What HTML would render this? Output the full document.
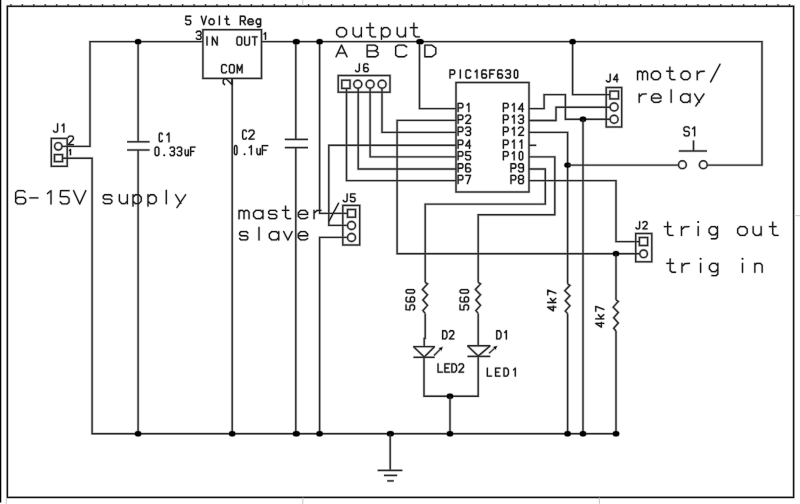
<!DOCTYPE html>
<html><head><meta charset="utf-8"><style>
html,body{margin:0;padding:0;background:#fff;overflow:hidden;font-family:"Liberation Sans",sans-serif;}
svg{display:block;}
#h path,#h rect,#h circle,#h ellipse{fill:none;stroke:#cdcdcd;stroke-width:2.8;}
#h .d{fill:#cdcdcd;stroke:#cdcdcd;stroke-width:1.4;}
#th path{fill:none;stroke:#d4d4d4;stroke-width:2.6;stroke-linejoin:round;stroke-linecap:round;}
#th .htd{fill:#d4d4d4;stroke:none;}
#g path,#g rect,#g circle{fill:none;stroke:#2a2a2a;stroke-width:1.4;}
#g .d{fill:#000;stroke:none;}
#t path{fill:none;stroke:#1a1a1a;stroke-width:1.3;stroke-linejoin:round;stroke-linecap:round;}
#t .td{fill:#1a1a1a;stroke:none;}
</style></head><body>
<svg width="800" height="504" viewBox="0 0 800 504">
<rect x="0" y="0" width="800" height="504" fill="#fff"/>
<g id="h">
<path d="M0.55 0 V502.6"/>
<rect x="7.35" y="6.25" width="786.25" height="491.15"/>
<path d="M10.90 4.2 V6.3 M22.35 4.2 V6.3 M33.80 4.2 V6.3 M45.25 4.2 V6.3 M56.70 4.2 V6.3 M68.15 4.2 V6.3 M79.60 4.2 V6.3 M91.05 4.2 V6.3 M102.50 4.2 V6.3 M113.95 4.2 V6.3 M125.40 4.2 V6.3 M136.85 4.2 V6.3 M148.30 4.2 V6.3 M159.75 4.2 V6.3 M171.20 4.2 V6.3 M182.65 4.2 V6.3 M194.10 4.2 V6.3 M205.55 4.2 V6.3 M217.00 4.2 V6.3 M228.45 4.2 V6.3 M239.90 4.2 V6.3 M251.35 4.2 V6.3 M262.80 4.2 V6.3 M274.25 4.2 V6.3 M285.70 4.2 V6.3 M297.15 4.2 V6.3 M308.60 4.2 V6.3 M320.05 4.2 V6.3 M331.50 4.2 V6.3 M342.95 4.2 V6.3 M354.40 4.2 V6.3 M365.85 4.2 V6.3 M377.30 4.2 V6.3 M388.75 4.2 V6.3 M400.20 4.2 V6.3 M411.65 4.2 V6.3 M423.10 4.2 V6.3 M434.55 4.2 V6.3 M446.00 4.2 V6.3 M457.45 4.2 V6.3 M468.90 4.2 V6.3 M480.35 4.2 V6.3 M491.80 4.2 V6.3 M503.25 4.2 V6.3 M514.70 4.2 V6.3 M526.15 4.2 V6.3 M537.60 4.2 V6.3 M549.05 4.2 V6.3 M560.50 4.2 V6.3 M571.95 4.2 V6.3 M583.40 4.2 V6.3 M594.85 4.2 V6.3 M606.30 4.2 V6.3 M617.75 4.2 V6.3 M629.20 4.2 V6.3 M640.65 4.2 V6.3 M652.10 4.2 V6.3 M663.55 4.2 V6.3 M675.00 4.2 V6.3 M686.45 4.2 V6.3 M697.90 4.2 V6.3 M709.35 4.2 V6.3 M720.80 4.2 V6.3 M732.25 4.2 V6.3 M743.70 4.2 V6.3 M755.15 4.2 V6.3 M766.60 4.2 V6.3 M778.05 4.2 V6.3 M789.50 4.2 V6.3"/>
<path d="M203 41.65 L90 41.65 L90 146.4 L62 146.4"/>
<path d="M261.5 41.65 L762 41.65 L762 165.1 L707.2 165.1"/>
<path d="M62.5 158.2 L92.1 158.2 L92.1 433.7 L616 433.7"/>
<path d="M138.1 41.65 L138.1 141.8"/>
<path d="M138.1 150 L138.1 433.7"/>
<path d="M127.1 141.8 L149.6 141.8"/>
<path d="M127.1 150 L149.6 150"/>
<ellipse cx="138.1" cy="41.65" rx="3.3" ry="2.7" class="d"/>
<ellipse cx="138.1" cy="433.7" rx="3.3" ry="2.7" class="d"/>
<rect x="202.9" y="29.7" width="58.6" height="48.7"/>
<path d="M232.2 78.4 L232.2 433.7"/>
<ellipse cx="232.2" cy="433.7" rx="3.3" ry="2.7" class="d"/>
<path d="M295.8 41.65 L295.8 139.4"/>
<path d="M295.8 147.6 L295.8 433.7"/>
<path d="M284.8 139.4 L308 139.4"/>
<path d="M284.8 147.6 L308 147.6"/>
<ellipse cx="296.3" cy="41.65" rx="3.6" ry="2.7" class="d"/>
<ellipse cx="296.3" cy="433.7" rx="3.6" ry="2.7" class="d"/>
<path d="M319.6 41.65 L319.6 213.4 L347.5 213.4"/>
<ellipse cx="319.6" cy="41.65" rx="3.3" ry="2.7" class="d"/>
<path d="M347.5 237.4 L319.6 237.4 L319.6 433.7"/>
<ellipse cx="319.6" cy="433.7" rx="3.3" ry="2.7" class="d"/>
<path d="M419.5 41.65 L419.5 108.6 L456 108.6"/>
<ellipse cx="420" cy="41.65" rx="3.8" ry="2.7" class="d"/>
<path d="M572.6 41.65 L572.6 94.6 L610 94.6"/>
<ellipse cx="572.6" cy="41.65" rx="3.3" ry="2.7" class="d"/>
<rect x="338.2" y="75.5" width="51.8" height="16.7"/>
<rect x="341.8" y="80.2" width="8.2" height="8.2"/>
<circle cx="357.8" cy="84.2" r="4.0"/>
<circle cx="370.1" cy="84.2" r="4.0"/>
<circle cx="382.1" cy="84.2" r="4.0"/>
<path d="M346.5 88.4 L346.5 180.6 L456 180.6"/>
<path d="M358.2 88.3 L358.2 169 L456 169"/>
<path d="M370.1 88.3 L370.1 156.9 L456 156.9"/>
<path d="M382 88.3 L382 132.4 L456 132.4"/>
<path d="M456 145.3 L328.8 145.3 L328.8 225.4 L347.5 225.4"/>
<path d="M456 120.4 L397.1 120.4 L397.1 253.7 L639.5 253.7"/>
<rect x="456" y="82.5" width="73" height="109.5"/>
<path d="M529 108.6 L544.1 108.6 L544.1 94.6 L565.4 94.6 L565.4 119.3 L610 119.3"/>
<ellipse cx="583" cy="119.3" rx="3.3" ry="2.7" class="d"/>
<path d="M583 119.3 L583 433.7"/>
<ellipse cx="583" cy="433.7" rx="3.3" ry="2.7" class="d"/>
<path d="M529 120.5 L556 120.5 L556 107.2 L610 107.2"/>
<path d="M529 132.4 L567.6 132.4 L567.6 283.8"/>
<path d="M567.6 313.6 L567.6 433.7"/>
<ellipse cx="567.6" cy="433.7" rx="3.3" ry="2.7" class="d"/>
<ellipse cx="567.6" cy="165.1" rx="3.3" ry="2.7" class="d"/>
<path d="M567.6 165.1 L678.4 165.1"/>
<path d="M529 145.3 L536.3 145.3"/>
<path d="M529 156.9 L554.8 156.9 L554.8 214.8 L478.2 214.8 L478.2 282.4"/>
<path d="M529 169 L545.3 169 L545.3 204.1 L425.2 204.1 L425.2 282.4"/>
<path d="M529 180.6 L616 180.6 L616 241.6 L639.4 241.6"/>
<ellipse cx="616" cy="253.7" rx="3.3" ry="2.7" class="d"/>
<path d="M616 253.7 L616 300"/>
<path d="M616 331 L616 433.7"/>
<ellipse cx="616" cy="433.7" rx="3.3" ry="2.7" class="d"/>
<path d="M425.2 282.4 L427.5 283.9 L422.4 289.53 L427.5 294.8 L422.9 300.07 L427.5 305.34 L422.9 310.61 L425.2 313.4"/>
<path d="M478.2 282.4 L480.5 283.9 L475.4 289.53 L480.5 294.8 L475.9 300.07 L480.5 305.34 L475.9 310.61 L478.2 313.4"/>
<path d="M567.6 283.8 L569.9 285.3 L564.8 290.654 L569.9 295.72 L565.3 300.786 L569.9 305.852 L565.3 310.918 L567.6 313.6"/>
<path d="M616 300 L618.3 301.5 L613.2 307.13 L618.3 312.4 L613.7 317.67 L618.3 322.94 L613.7 328.21 L616 331"/>
<path d="M413.4 346.6 H434.7 L424.2 356.9 Z" stroke-linejoin="bevel"/>
<path d="M413.4 357.3 L434.7 357.3"/>
<path d="M467.5 345.8 H490.3 L478.2 356.1 Z" stroke-linejoin="bevel"/>
<path d="M467.5 356.4 L490.3 356.4"/>
<path d="M425.2 313.4 L425.2 338.4 L424.2 338.4 L424.2 346.6"/>
<path d="M478.2 313.4 L478.2 345.8"/>
<path d="M424 357.3 L424 396.2 L478.2 396.2 L478.2 356.4"/>
<ellipse cx="450" cy="396.2" rx="3.3" ry="2.7" class="d"/>
<path d="M450 396.2 L450 433.7"/>
<ellipse cx="450" cy="433.7" rx="3.3" ry="2.7" class="d"/>
<path d="M434 355.5 L440.182 349.39"/>
<path d="M442.60 347.00 L441.38 350.60 L438.99 348.18 Z" class="d"/>
<path d="M489 353.3 L494.488 348.292"/>
<path d="M497.00 346.00 L495.63 349.55 L493.34 347.04 Z" class="d"/>
<ellipse cx="390.4" cy="433.7" rx="3.6" ry="2.7" class="d"/>
<path d="M390.2 433.7 L390.2 470.4"/>
<path d="M377.6 470.4 L402.4 470.4"/>
<path d="M383.9 475.4 L397.2 475.4"/>
<path d="M387.2 480.9 L393.8 480.9"/>
<rect x="51.3" y="138.4" width="15.9" height="27.9"/>
<circle cx="58.3" cy="146.3" r="3.7"/>
<rect x="54.5" y="154.6" width="8" height="7"/>
<rect x="606.2" y="87.5" width="15.5" height="39.5"/>
<rect x="609.9" y="91.1" width="8.6" height="7.8"/>
<circle cx="614.1" cy="107" r="4"/>
<circle cx="614.1" cy="119.3" r="4"/>
<rect x="635.7" y="233.5" width="16.1" height="28.3"/>
<rect x="639.4" y="237.5" width="8.2" height="8"/>
<circle cx="643.6" cy="253.8" r="3.8"/>
<rect x="342.8" y="205.4" width="16.9" height="39.6"/>
<rect x="347.5" y="209.5" width="8" height="7.7"/>
<circle cx="351.5" cy="225.5" r="4"/>
<circle cx="351.5" cy="237.5" r="4"/>
<circle cx="682.4" cy="164.7" r="3.9"/>
<circle cx="703.3" cy="164.7" r="3.9"/>
<path d="M693.5 140.4 L693.5 151"/>
<path d="M678.8 151 L707 151"/>
</g>
<g id="th">
<path d="M339.39 27.67 343.77 27.67 346.51 30.29 346.51 34.23 343.77 36.85 339.39 36.85 336.65 34.23 336.65 30.29 339.39 27.67 M353.15 27.67 353.15 34.23 355.62 36.85 358.9 36.85 361.37 34.23 M361.37 27.67 361.37 36.85 M370.07 23.15 370.07 35.01 371.99 36.85 375.55 36.85 M366.65 27.67 373.5 27.67 M381.5 27.67 381.5 39.32 M381.5 30.29 383.97 27.67 387.53 27.67 389.99 30.29 389.99 34.23 387.53 36.85 383.97 36.85 381.5 34.23 M397.25 27.67 397.25 34.23 399.72 36.85 403 36.85 405.47 34.23 M405.47 27.67 405.47 36.85 M413.88 23.15 413.88 35.01 415.79 36.85 419.35 36.85 M410.45 27.67 417.3 27.67"/>
<path d="M336.05 56.75 341.53 45.15 347.01 56.75 M337.77 53.15 345.29 53.15 M367.15 45.15 367.15 56.75 375.76 56.75 378.11 55.01 378.11 52.69 375.76 50.95 367.15 50.95 M367.15 45.15 374.98 45.15 377.33 46.89 377.33 49.21 374.98 50.95 M406.61 46.89 404.26 45.15 398 45.15 395.65 46.89 395.65 55.01 398 56.75 404.26 56.75 406.61 55.01 M424.85 45.15 424.85 56.75 431.9 56.75 435.81 53.85 435.81 48.05 431.9 45.15 424.85 45.15"/>
<path d="M637.55 71.27 637.55 79.65 M637.55 73.07 639.17 71.27 640.92 71.27 642.55 73.07 642.55 79.65 M642.55 73.07 644.17 71.27 645.92 71.27 647.55 73.07 647.55 79.65 M653.9 71.27 657.9 71.27 660.4 73.67 660.4 77.26 657.9 79.65 653.9 79.65 651.4 77.26 651.4 73.67 653.9 71.27 M669.88 67.15 669.88 77.97 671.62 79.65 674.88 79.65 M666.75 71.27 673 71.27 M683.55 71.27 687.55 71.27 690.05 73.67 690.05 77.26 687.55 79.65 683.55 79.65 681.05 77.26 681.05 73.67 683.55 71.27 M697.25 71.27 697.25 79.65 M697.25 74.27 700.12 71.51 704.25 71.27 M710.65 81.9 720.02 64.27"/>
<path d="M639.2 93.97 639.2 102.35 M639.2 96.97 642.07 94.21 646.2 93.97 M651.55 98.16 660.92 98.16 660.92 96.37 658.42 93.97 654.05 93.97 651.55 96.37 651.55 99.96 654.05 102.35 658.42 102.35 660.92 100.91 M671.15 89.85 671.15 102.35 M690.02 93.97 690.02 102.35 M690.02 96.37 687.52 93.97 683.15 93.97 680.65 96.37 680.65 99.96 683.15 102.35 687.52 102.35 690.02 99.96 M694.65 93.97 699.52 102.11 M704.02 93.97 695.9 105.97"/>
<path d="M24.9 191.98 23.48 190.65 17.78 190.65 15.65 192.64 15.65 201.95 17.78 203.95 23.48 203.95 25.61 201.95 25.61 199.29 23.48 197.3 17.78 197.3 15.65 199.29 M29.9 197.96 37.88 197.96 M47.55 193.58 51.01 190.65 51.01 203.95 M69.09 190.65 60.63 190.65 60.25 196.63 67.2 196.63 69.09 198.63 69.09 201.95 67.2 203.95 62.15 203.95 60.25 201.95 M73.65 190.65 79.7 203.95 85.75 190.65"/>
<path d="M111.89 196.27 110.43 194.74 104.71 194.74 103.25 196.27 103.25 197.92 104.71 199.19 110.43 199.19 111.89 200.47 111.89 202.12 110.43 203.65 104.71 203.65 103.25 202.12 M119.4 194.74 119.4 201.1 121.79 203.65 124.99 203.65 127.38 201.1 M127.38 194.74 127.38 203.65 M133 194.74 133 206.04 M133 197.28 135.39 194.74 138.85 194.74 141.25 197.28 141.25 201.1 138.85 203.65 135.39 203.65 133 201.1 M148 194.74 148 206.04 M148 197.28 150.39 194.74 153.85 194.74 156.25 197.28 156.25 201.1 153.85 203.65 150.39 203.65 148 201.1 M166.3 190.35 166.3 203.65 M175.65 194.74 180.84 203.4 M185.62 194.74 176.98 207.51"/>
<path d="M239.05 210.28 239.05 218.65 M239.05 212.07 240.68 210.28 242.43 210.28 244.05 212.07 244.05 218.65 M244.05 212.07 245.68 210.28 247.43 210.28 249.05 212.07 249.05 218.65 M262.93 210.28 262.93 218.65 M262.93 212.67 260.43 210.28 256.05 210.28 253.55 212.67 253.55 216.26 256.05 218.65 260.43 218.65 262.93 216.26 M276.77 211.71 275.4 210.28 270.02 210.28 268.65 211.71 268.65 213.27 270.02 214.46 275.4 214.46 276.77 215.66 276.77 217.21 275.4 218.65 270.02 218.65 268.65 217.21 M285.57 206.15 285.57 216.97 287.32 218.65 290.57 218.65 M282.45 210.28 288.7 210.28 M298.25 214.46 307.62 214.46 307.62 212.67 305.12 210.28 300.75 210.28 298.25 212.67 298.25 216.26 300.75 218.65 305.12 218.65 307.62 217.21 M314.05 210.28 314.05 218.65 M314.05 213.27 316.92 210.51 321.05 210.28 M329.15 220.9 338.52 203.28"/>
<path d="M247.78 233.01 246.4 231.57 241.03 231.57 239.65 233.01 239.65 234.57 241.03 235.76 246.4 235.76 247.78 236.96 247.78 238.51 246.4 239.95 241.03 239.95 239.65 238.51 M259 227.45 259 239.95 M278.72 231.57 278.72 239.95 M278.72 233.97 276.22 231.57 271.85 231.57 269.35 233.97 269.35 237.56 271.85 239.95 276.22 239.95 278.72 237.56 M283.65 231.57 287.9 239.95 292.15 231.57 M298.25 235.76 307.62 235.76 307.62 233.97 305.12 231.57 300.75 231.57 298.25 233.97 298.25 237.56 300.75 239.95 305.12 239.95 307.62 238.51"/>
<path d="M667.68 222.15 667.68 233.67 669.54 235.45 673 235.45 M664.35 226.54 671 226.54 M681.5 226.54 681.5 235.45 M681.5 229.72 684.56 226.79 688.95 226.54 M698.2 226.54 698.2 235.45 M717.43 226.54 717.43 237.18 715.83 238.77 711.44 238.77 M717.43 229.08 715.03 226.54 711.44 226.54 709.05 229.08 709.05 232.27 711.44 234.81 715.03 234.81 717.43 232.27 M740.31 226.54 744.57 226.54 747.23 229.08 747.23 232.9 744.57 235.45 740.31 235.45 737.65 232.9 737.65 229.08 740.31 226.54 M753.15 226.54 753.15 232.9 755.54 235.45 758.74 235.45 761.13 232.9 M761.13 226.54 761.13 235.45 M772.73 222.15 772.73 233.67 774.59 235.45 778.04 235.45 M769.4 226.54 776.05 226.54"/>
<path d="M670.18 258.95 670.18 270.47 672.04 272.25 675.5 272.25 M666.85 263.34 673.5 263.34 M682 263.34 682 272.25 M682 266.52 685.06 263.59 689.45 263.34 M700.6 263.34 700.6 272.25 M717.83 263.34 717.83 273.98 716.23 275.57 711.84 275.57 M717.83 265.88 715.43 263.34 711.84 263.34 709.45 265.88 709.45 269.07 711.84 271.61 715.43 271.61 717.83 269.07 M742.5 263.34 742.5 272.25 M754.85 263.34 754.85 272.25 M754.85 265.25 756.58 263.34 760.44 263.34 762.17 265.25 762.17 272.25"/>
<path d="M190.67 16.25 185.94 16.25 185.73 20.03 189.61 20.03 190.67 21.29 190.67 23.39 189.61 24.65 186.79 24.65 185.73 23.39 M201.33 16.25 203.8 24.65 206.27 16.25 M210.47 19.02 212.73 19.02 214.14 20.63 214.14 23.04 212.73 24.65 210.47 24.65 209.06 23.04 209.06 20.63 210.47 19.02 M219.4 16.25 219.4 24.65 M226.67 16.25 226.67 23.52 227.66 24.65 229.49 24.65 M224.91 19.02 228.43 19.02 M240.33 24.65 240.33 16.25 244.21 16.25 245.27 17.51 245.27 19.61 244.21 20.87 240.33 20.87 M242.8 20.87 245.27 24.65 M247.95 21.84 253.25 21.84 253.25 20.63 251.83 19.02 249.37 19.02 247.95 20.63 247.95 23.04 249.37 24.65 251.83 24.65 253.25 23.69 M260.62 19.02 260.62 25.74 259.78 26.75 257.45 26.75 M260.62 20.63 259.35 19.02 257.45 19.02 256.18 20.63 256.18 22.64 257.45 24.25 259.35 24.25 260.62 22.64"/>
<path d="M207 36.85 207 45.05 M212.39 45.05 212.39 36.85 217.21 45.05 217.21 36.85"/>
<path d="M238.04 36.85 240.66 36.85 241.76 38.16 241.76 43.74 240.66 45.05 238.04 45.05 236.94 43.74 236.94 38.16 238.04 36.85 M244.64 36.85 244.64 43.82 245.67 45.05 248.43 45.05 249.46 43.82 249.46 36.85 M252.34 36.85 257.16 36.85 M254.75 36.85 254.75 45.05"/>
<path d="M226.46 65.88 225.43 64.65 222.67 64.65 221.64 65.88 221.64 71.62 222.67 72.85 225.43 72.85 226.46 71.62 M230.54 64.65 233.16 64.65 234.26 65.96 234.26 71.54 233.16 72.85 230.54 72.85 229.44 71.54 229.44 65.96 230.54 64.65 M237.24 72.85 237.24 64.65 239.65 70.39 242.06 64.65 242.06 72.85"/>
<path d="M196.32 32.47 197.34 31.25 200.06 31.25 201.08 32.47 201.08 34.09 200.06 35.3 198.02 35.3 M200.06 35.3 201.08 36.52 201.08 38.14 200.06 39.35 197.34 39.35 196.32 38.14"/>
<path d="M264.06 34.12 265.52 32.65 265.52 39.35"/>
<g transform="translate(232.6 85.2) rotate(-90)"><path d="M0.65 -8.04 1.86 -9.35 5.1 -9.35 6.31 -8.04 6.31 -6.3 0.65 -0.65 6.31 -0.65"/></g>
<path d="M359.34 63.85 359.34 70.39 358.37 71.55 356.43 71.55 355.46 70.39 M367.94 64.62 367.29 63.85 364.71 63.85 363.74 65 363.74 70.39 364.71 71.55 367.29 71.55 368.26 70.39 368.26 68.85 367.29 67.7 364.71 67.7 363.74 68.85"/>
<path d="M450 78 450 70 453.69 70 454.7 71.2 454.7 73.2 453.69 74.4 450 74.4 M460.31 70 460.31 78 M470.62 71.2 469.61 70 466.93 70 465.92 71.2 465.92 76.8 466.93 78 469.61 78 470.62 76.8 M475.22 71.76 476.97 70 476.97 78 M486.21 70.8 485.53 70 482.85 70 481.84 71.2 481.84 76.8 482.85 78 485.53 78 486.54 76.8 486.54 75.2 485.53 74 482.85 74 481.84 75.2 M494.5 70 489.8 70 489.8 78 M489.8 74 493.16 74 M502.13 70.8 501.45 70 498.77 70 497.76 71.2 497.76 76.8 498.77 78 501.45 78 502.46 76.8 502.46 75.2 501.45 74 498.77 74 497.76 75.2 M505.72 71.2 506.73 70 509.41 70 510.42 71.2 510.42 72.8 509.41 74 507.4 74 M509.41 74 510.42 75.2 510.42 76.8 509.41 78 506.73 78 505.72 76.8 M515.36 70 516.7 70 517.71 71.2 517.71 76.8 516.7 78 515.36 78 514.35 76.8 514.35 71.2 515.36 70"/>
<path d="M458.09 111.55 458.09 103.35 461.88 103.35 462.91 104.58 462.91 106.63 461.88 107.86 458.09 107.86 M467.07 105.15 468.86 103.35 468.86 111.55"/>
<path d="M458.09 123.35 458.09 115.15 461.88 115.15 462.91 116.38 462.91 118.43 461.88 119.66 458.09 119.66 M465.69 116.38 466.72 115.15 469.48 115.15 470.51 116.38 470.51 118.02 465.69 123.35 470.51 123.35"/>
<path d="M458.09 135.35 458.09 127.15 461.88 127.15 462.91 128.38 462.91 130.43 461.88 131.66 458.09 131.66 M465.69 128.38 466.72 127.15 469.48 127.15 470.51 128.38 470.51 130.02 469.48 131.25 467.41 131.25 M469.48 131.25 470.51 132.48 470.51 134.12 469.48 135.35 466.72 135.35 465.69 134.12"/>
<path d="M458.09 148.25 458.09 140.05 461.88 140.05 462.91 141.28 462.91 143.33 461.88 144.56 458.09 144.56 M469.48 148.25 469.48 140.05 465.69 145.79 470.51 145.79"/>
<path d="M458.09 159.85 458.09 151.65 461.88 151.65 462.91 152.88 462.91 154.93 461.88 156.16 458.09 156.16 M470.51 151.65 465.9 151.65 465.69 155.34 469.48 155.34 470.51 156.57 470.51 158.62 469.48 159.85 466.72 159.85 465.69 158.62"/>
<path d="M458.09 171.95 458.09 163.75 461.88 163.75 462.91 164.98 462.91 167.03 461.88 168.26 458.09 168.26 M470.17 164.57 469.48 163.75 466.72 163.75 465.69 164.98 465.69 170.72 466.72 171.95 469.48 171.95 470.51 170.72 470.51 169.08 469.48 167.85 466.72 167.85 465.69 169.08"/>
<path d="M458.09 183.55 458.09 175.35 461.88 175.35 462.91 176.58 462.91 178.63 461.88 179.86 458.09 179.86 M465.69 175.35 470.51 175.35 467.41 183.55"/>
<path d="M503.39 111.55 503.39 103.35 507.18 103.35 508.21 104.58 508.21 106.63 507.18 107.86 503.39 107.86 M512.37 105.15 514.16 103.35 514.16 111.55 M522.38 111.55 522.38 103.35 518.59 109.09 523.41 109.09"/>
<path d="M503.39 123.35 503.39 115.15 507.18 115.15 508.21 116.38 508.21 118.43 507.18 119.66 503.39 119.66 M512.37 116.95 514.16 115.15 514.16 123.35 M518.59 116.38 519.62 115.15 522.38 115.15 523.41 116.38 523.41 118.02 522.38 119.25 520.31 119.25 M522.38 119.25 523.41 120.48 523.41 122.12 522.38 123.35 519.62 123.35 518.59 122.12"/>
<path d="M503.39 135.35 503.39 127.15 507.18 127.15 508.21 128.38 508.21 130.43 507.18 131.66 503.39 131.66 M512.37 128.95 514.16 127.15 514.16 135.35 M518.59 128.38 519.62 127.15 522.38 127.15 523.41 128.38 523.41 130.02 518.59 135.35 523.41 135.35"/>
<path d="M503.39 148.25 503.39 140.05 507.18 140.05 508.21 141.28 508.21 143.33 507.18 144.56 503.39 144.56 M512.37 141.85 514.16 140.05 514.16 148.25 M519.97 141.85 521.76 140.05 521.76 148.25"/>
<path d="M503.39 159.85 503.39 151.65 507.18 151.65 508.21 152.88 508.21 154.93 507.18 156.16 503.39 156.16 M512.37 153.45 514.16 151.65 514.16 159.85 M520.31 151.65 521.69 151.65 522.72 152.88 522.72 158.62 521.69 159.85 520.31 159.85 519.28 158.62 519.28 152.88 520.31 151.65"/>
<path d="M510.99 171.95 510.99 163.75 514.78 163.75 515.81 164.98 515.81 167.03 514.78 168.26 510.99 168.26 M518.59 170.72 519.62 171.95 522.38 171.95 523.41 170.72 523.41 164.98 522.38 163.75 519.62 163.75 518.59 164.98 518.59 166.62 519.62 167.85 522.38 167.85 523.41 166.62"/>
<path d="M510.99 183.55 510.99 175.35 514.78 175.35 515.81 176.58 515.81 178.63 514.78 179.86 510.99 179.86 M519.62 179.45 518.59 178.22 518.59 176.58 519.62 175.35 522.38 175.35 523.41 176.58 523.41 178.22 522.38 179.45 519.62 179.45 518.59 180.68 518.59 182.32 519.62 183.55 522.38 183.55 523.41 182.32 523.41 180.68 522.38 179.45"/>
<path d="M610.19 74.25 610.19 80.62 609.25 81.75 607.36 81.75 606.41 80.62 M616.96 81.75 616.96 74.25 613.49 79.5 617.9 79.5"/>
<path d="M689.25 128.2 688.11 126.85 685.09 126.85 683.95 128.2 683.95 130 685.09 131.35 688.11 131.35 689.25 132.7 689.25 134.5 688.11 135.85 685.09 135.85 683.95 134.5 M692.67 128.83 694.63 126.85 694.63 135.85"/>
<path d="M57.57 123.85 57.57 130.82 56.53 132.05 54.47 132.05 53.43 130.82 M62.07 125.65 63.86 123.85 63.86 132.05"/>
<path d="M68.24 137.35 69.34 136.05 72.26 136.05 73.36 137.35 73.36 139.09 68.24 144.75 73.36 144.75"/>
<path d="M69.34 150.59 70.48 149.45 70.48 154.65"/>
<path d="M162.26 134.34 161.62 133.05 159.9 133.05 159.25 134.34 159.25 140.36 159.9 141.65 161.62 141.65 162.26 140.36"/>
<path d="M166.95 134.94 168.96 133.05 168.96 141.65"/>
<path d="M156.2 147.05 157.73 147.05 158.88 148.32 158.88 154.27 157.73 155.55 156.2 155.55 155.05 154.27 155.05 148.32 156.2 147.05  M170.05 148.32 170.99 147.05 173.51 147.05 174.45 148.32 174.45 150.02 173.51 151.3 171.62 151.3 M173.51 151.3 174.45 152.57 174.45 154.27 173.51 155.55 170.99 155.55 170.05 154.27 M177.25 148.32 178.19 147.05 180.71 147.05 181.65 148.32 181.65 150.02 180.71 151.3 178.82 151.3 M180.71 151.3 181.65 152.57 181.65 154.27 180.71 155.55 178.19 155.55 177.25 154.27 M185.15 149.85 185.15 153.92 186.1 155.55 187.36 155.55 188.31 153.92 M188.31 149.85 188.31 155.55 M195.05 147.05 190.65 147.05 190.65 155.55 M190.65 151.3 193.8 151.3"/>
<path d="M246.39 131.48 245.59 130.15 243.45 130.15 242.65 131.48 242.65 137.71 243.45 139.05 245.59 139.05 246.39 137.71 M248.95 131.48 250.04 130.15 252.96 130.15 254.06 131.48 254.06 133.26 248.95 139.05 254.06 139.05"/>
<path d="M235.15 145.65 236.22 145.65 237.02 146.98 237.02 153.21 236.22 154.55 235.15 154.55 234.35 153.21 234.35 146.98 235.15 145.65  M249.25 147.61 251.33 145.65 251.33 154.55 M256.95 148.59 256.95 152.85 257.96 154.55 259.3 154.55 260.31 152.85 M260.31 148.59 260.31 154.55 M267.65 145.65 262.35 145.65 262.35 154.55 M262.35 150.1 266.13 150.1"/>
<path d="M347.14 193.95 347.14 200.5 346.17 201.65 344.23 201.65 343.26 200.5 M355.06 193.95 350.73 193.95 350.54 197.41 354.09 197.41 355.06 198.57 355.06 200.5 354.09 201.65 351.51 201.65 350.54 200.5"/>
<path d="M639.61 221.65 639.61 227.77 638.71 228.85 636.89 228.85 635.99 227.77 M642.88 222.73 643.79 221.65 646.21 221.65 647.12 222.73 647.12 224.17 642.88 228.85 647.12 228.85"/>
<path d="M442.65 330.75 442.65 338.95 445.42 338.95 446.95 336.9 446.95 332.8 445.42 330.75 442.65 330.75 M449.45 331.98 450.37 330.75 452.83 330.75 453.75 331.98 453.75 333.62 449.45 338.95 453.75 338.95"/>
<path d="M496.75 330.75 496.75 338.95 499.51 338.95 501.05 336.9 501.05 332.8 499.51 330.75 496.75 330.75 M504.78 332.55 506.38 330.75 506.38 338.95"/>
<path d="M438.04 363.85 438.04 372.15 442.36 372.15 M449.52 363.85 444.88 363.85 444.88 372.15 449.52 372.15 M444.88 368 448.2 368 M451.88 363.85 451.88 372.15 454.86 372.15 456.52 370.08 456.52 365.93 454.86 363.85 451.88 363.85 M458.88 365.1 459.87 363.85 462.53 363.85 463.52 365.1 463.52 366.76 458.88 372.15 463.52 372.15"/>
<path d="M487.35 368.15 487.35 376.05 491.45 376.05 M500.01 368.15 495.59 368.15 495.59 376.05 500.01 376.05 M495.59 372.1 498.75 372.1 M503.99 368.15 503.99 376.05 506.83 376.05 508.41 374.07 508.41 370.12 506.83 368.15 503.99 368.15 M513.65 369.89 515.3 368.15 515.3 376.05"/>
<g transform="translate(415.2 310.6) rotate(-90)"><path d="M5.7 -9.15 0.92 -9.15 0.7 -5.33 4.63 -5.33 5.7 -4.05 5.7 -1.92 4.63 -0.65 1.77 -0.65 0.7 -1.92 M13.34 -8.3 12.63 -9.15 9.77 -9.15 8.7 -7.88 8.7 -1.92 9.77 -0.65 12.63 -0.65 13.7 -1.92 13.7 -3.62 12.63 -4.9 9.77 -4.9 8.7 -3.62 M18.49 -9.15 19.91 -9.15 20.98 -7.88 20.98 -1.92 19.91 -0.65 18.49 -0.65 17.41 -1.92 17.41 -7.88 18.49 -9.15"/></g>
<g transform="translate(469.2 310.6) rotate(-90)"><path d="M5.7 -9.15 0.92 -9.15 0.7 -5.33 4.63 -5.33 5.7 -4.05 5.7 -1.92 4.63 -0.65 1.77 -0.65 0.7 -1.92 M13.34 -8.3 12.63 -9.15 9.77 -9.15 8.7 -7.88 8.7 -1.92 9.77 -0.65 12.63 -0.65 13.7 -1.92 13.7 -3.62 12.63 -4.9 9.77 -4.9 8.7 -3.62 M18.49 -9.15 19.91 -9.15 20.98 -7.88 20.98 -1.92 19.91 -0.65 18.49 -0.65 17.41 -1.92 17.41 -7.88 18.49 -9.15"/></g>
<g transform="translate(556.4 311.7) rotate(-90)"><path d="M4.54 -0.65 4.54 -8.65 0.85 -3.05 5.55 -3.05 M9.18 -8.65 9.18 -0.65 M13.22 -6.01 9.18 -2.56 M10.66 -3.71 13.22 -0.65 M16.85 -8.65 21.55 -8.65 18.53 -0.65"/></g>
<g transform="translate(604.4 328) rotate(-90)"><path d="M4.54 -0.65 4.54 -8.65 0.85 -3.05 5.55 -3.05 M9.18 -8.65 9.18 -0.65 M13.22 -6.01 9.18 -2.56 M10.66 -3.71 13.22 -0.65 M16.85 -8.65 21.55 -8.65 18.53 -0.65"/></g>
<circle cx="698.20" cy="222.02" r="1.05" class="htd"/>
<circle cx="700.60" cy="258.82" r="1.05" class="htd"/>
<circle cx="742.50" cy="258.82" r="1.05" class="htd"/>
<circle cx="164.25" cy="155.21" r="1.05" class="htd"/>
<circle cx="244.55" cy="154.19" r="1.05" class="htd"/>
</g>
<g id="g">
<path d="M0.55 0 V502.6" style="stroke:#000;stroke-width:1.1"/>
<rect x="7.35" y="6.25" width="786.25" height="491.15" style="stroke:#111;stroke-width:1.35"/>
<path d="M10.90 4.2 V6.3 M22.35 4.2 V6.3 M33.80 4.2 V6.3 M45.25 4.2 V6.3 M56.70 4.2 V6.3 M68.15 4.2 V6.3 M79.60 4.2 V6.3 M91.05 4.2 V6.3 M102.50 4.2 V6.3 M113.95 4.2 V6.3 M125.40 4.2 V6.3 M136.85 4.2 V6.3 M148.30 4.2 V6.3 M159.75 4.2 V6.3 M171.20 4.2 V6.3 M182.65 4.2 V6.3 M194.10 4.2 V6.3 M205.55 4.2 V6.3 M217.00 4.2 V6.3 M228.45 4.2 V6.3 M239.90 4.2 V6.3 M251.35 4.2 V6.3 M262.80 4.2 V6.3 M274.25 4.2 V6.3 M285.70 4.2 V6.3 M297.15 4.2 V6.3 M308.60 4.2 V6.3 M320.05 4.2 V6.3 M331.50 4.2 V6.3 M342.95 4.2 V6.3 M354.40 4.2 V6.3 M365.85 4.2 V6.3 M377.30 4.2 V6.3 M388.75 4.2 V6.3 M400.20 4.2 V6.3 M411.65 4.2 V6.3 M423.10 4.2 V6.3 M434.55 4.2 V6.3 M446.00 4.2 V6.3 M457.45 4.2 V6.3 M468.90 4.2 V6.3 M480.35 4.2 V6.3 M491.80 4.2 V6.3 M503.25 4.2 V6.3 M514.70 4.2 V6.3 M526.15 4.2 V6.3 M537.60 4.2 V6.3 M549.05 4.2 V6.3 M560.50 4.2 V6.3 M571.95 4.2 V6.3 M583.40 4.2 V6.3 M594.85 4.2 V6.3 M606.30 4.2 V6.3 M617.75 4.2 V6.3 M629.20 4.2 V6.3 M640.65 4.2 V6.3 M652.10 4.2 V6.3 M663.55 4.2 V6.3 M675.00 4.2 V6.3 M686.45 4.2 V6.3 M697.90 4.2 V6.3 M709.35 4.2 V6.3 M720.80 4.2 V6.3 M732.25 4.2 V6.3 M743.70 4.2 V6.3 M755.15 4.2 V6.3 M766.60 4.2 V6.3 M778.05 4.2 V6.3 M789.50 4.2 V6.3" style="stroke:#222;stroke-width:1.2"/>
<path d="M302.8 0 V6 M302.8 497.5 V504 M599.4 0 V6 M599.4 497.5 V504 M794.5 215.7 H800 M6.3 497.5 V504" style="stroke:#c8c8c8;stroke-width:1"/>
<path d="M203 41.65 L90 41.65 L90 146.4 L62 146.4"/>
<path d="M261.5 41.65 L762 41.65 L762 165.1 L707.2 165.1"/>
<path d="M62.5 158.2 L92.1 158.2 L92.1 433.7 L616 433.7"/>
<path d="M138.1 41.65 L138.1 141.8"/>
<path d="M138.1 150 L138.1 433.7"/>
<path d="M127.1 141.8 L149.6 141.8"/>
<path d="M127.1 150 L149.6 150"/>
<ellipse cx="138.1" cy="41.65" rx="3.3" ry="2.7" class="d"/>
<ellipse cx="138.1" cy="433.7" rx="3.3" ry="2.7" class="d"/>
<rect x="202.9" y="29.7" width="58.6" height="48.7"/>
<path d="M232.2 78.4 L232.2 433.7"/>
<ellipse cx="232.2" cy="433.7" rx="3.3" ry="2.7" class="d"/>
<path d="M295.8 41.65 L295.8 139.4"/>
<path d="M295.8 147.6 L295.8 433.7"/>
<path d="M284.8 139.4 L308 139.4"/>
<path d="M284.8 147.6 L308 147.6"/>
<ellipse cx="296.3" cy="41.65" rx="3.6" ry="2.7" class="d"/>
<ellipse cx="296.3" cy="433.7" rx="3.6" ry="2.7" class="d"/>
<path d="M319.6 41.65 L319.6 213.4 L347.5 213.4"/>
<ellipse cx="319.6" cy="41.65" rx="3.3" ry="2.7" class="d"/>
<path d="M347.5 237.4 L319.6 237.4 L319.6 433.7"/>
<ellipse cx="319.6" cy="433.7" rx="3.3" ry="2.7" class="d"/>
<path d="M419.5 41.65 L419.5 108.6 L456 108.6"/>
<ellipse cx="420" cy="41.65" rx="3.8" ry="2.7" class="d"/>
<path d="M572.6 41.65 L572.6 94.6 L610 94.6"/>
<ellipse cx="572.6" cy="41.65" rx="3.3" ry="2.7" class="d"/>
<rect x="338.2" y="75.5" width="51.8" height="16.7"/>
<rect x="341.8" y="80.2" width="8.2" height="8.2"/>
<circle cx="357.8" cy="84.2" r="4.0"/>
<circle cx="370.1" cy="84.2" r="4.0"/>
<circle cx="382.1" cy="84.2" r="4.0"/>
<path d="M346.5 88.4 L346.5 180.6 L456 180.6"/>
<path d="M358.2 88.3 L358.2 169 L456 169"/>
<path d="M370.1 88.3 L370.1 156.9 L456 156.9"/>
<path d="M382 88.3 L382 132.4 L456 132.4"/>
<path d="M456 145.3 L328.8 145.3 L328.8 225.4 L347.5 225.4"/>
<path d="M456 120.4 L397.1 120.4 L397.1 253.7 L639.5 253.7"/>
<rect x="456" y="82.5" width="73" height="109.5"/>
<path d="M529 108.6 L544.1 108.6 L544.1 94.6 L565.4 94.6 L565.4 119.3 L610 119.3"/>
<ellipse cx="583" cy="119.3" rx="3.3" ry="2.7" class="d"/>
<path d="M583 119.3 L583 433.7"/>
<ellipse cx="583" cy="433.7" rx="3.3" ry="2.7" class="d"/>
<path d="M529 120.5 L556 120.5 L556 107.2 L610 107.2"/>
<path d="M529 132.4 L567.6 132.4 L567.6 283.8"/>
<path d="M567.6 313.6 L567.6 433.7"/>
<ellipse cx="567.6" cy="433.7" rx="3.3" ry="2.7" class="d"/>
<ellipse cx="567.6" cy="165.1" rx="3.3" ry="2.7" class="d"/>
<path d="M567.6 165.1 L678.4 165.1"/>
<path d="M529 145.3 L536.3 145.3"/>
<path d="M529 156.9 L554.8 156.9 L554.8 214.8 L478.2 214.8 L478.2 282.4"/>
<path d="M529 169 L545.3 169 L545.3 204.1 L425.2 204.1 L425.2 282.4"/>
<path d="M529 180.6 L616 180.6 L616 241.6 L639.4 241.6"/>
<ellipse cx="616" cy="253.7" rx="3.3" ry="2.7" class="d"/>
<path d="M616 253.7 L616 300"/>
<path d="M616 331 L616 433.7"/>
<ellipse cx="616" cy="433.7" rx="3.3" ry="2.7" class="d"/>
<path d="M425.2 282.4 L427.5 283.9 L422.4 289.53 L427.5 294.8 L422.9 300.07 L427.5 305.34 L422.9 310.61 L425.2 313.4"/>
<path d="M478.2 282.4 L480.5 283.9 L475.4 289.53 L480.5 294.8 L475.9 300.07 L480.5 305.34 L475.9 310.61 L478.2 313.4"/>
<path d="M567.6 283.8 L569.9 285.3 L564.8 290.654 L569.9 295.72 L565.3 300.786 L569.9 305.852 L565.3 310.918 L567.6 313.6"/>
<path d="M616 300 L618.3 301.5 L613.2 307.13 L618.3 312.4 L613.7 317.67 L618.3 322.94 L613.7 328.21 L616 331"/>
<path d="M413.4 346.6 H434.7 L424.2 356.9 Z" stroke-linejoin="bevel"/>
<path d="M413.4 357.3 L434.7 357.3"/>
<path d="M467.5 345.8 H490.3 L478.2 356.1 Z" stroke-linejoin="bevel"/>
<path d="M467.5 356.4 L490.3 356.4"/>
<path d="M425.2 313.4 L425.2 338.4 L424.2 338.4 L424.2 346.6"/>
<path d="M478.2 313.4 L478.2 345.8"/>
<path d="M424 357.3 L424 396.2 L478.2 396.2 L478.2 356.4"/>
<ellipse cx="450" cy="396.2" rx="3.3" ry="2.7" class="d"/>
<path d="M450 396.2 L450 433.7"/>
<ellipse cx="450" cy="433.7" rx="3.3" ry="2.7" class="d"/>
<path d="M434 355.5 L440.182 349.39" style="stroke-width:1.1;"/>
<path d="M442.60 347.00 L441.38 350.60 L438.99 348.18 Z" class="d"/>
<path d="M489 353.3 L494.488 348.292" style="stroke-width:1.1;"/>
<path d="M497.00 346.00 L495.63 349.55 L493.34 347.04 Z" class="d"/>
<ellipse cx="390.4" cy="433.7" rx="3.6" ry="2.7" class="d"/>
<path d="M390.2 433.7 L390.2 470.4"/>
<path d="M377.6 470.4 L402.4 470.4"/>
<path d="M383.9 475.4 L397.2 475.4"/>
<path d="M387.2 480.9 L393.8 480.9"/>
<rect x="51.3" y="138.4" width="15.9" height="27.9"/>
<circle cx="58.3" cy="146.3" r="3.7"/>
<rect x="54.5" y="154.6" width="8" height="7"/>
<rect x="606.2" y="87.5" width="15.5" height="39.5"/>
<rect x="609.9" y="91.1" width="8.6" height="7.8"/>
<circle cx="614.1" cy="107" r="4"/>
<circle cx="614.1" cy="119.3" r="4"/>
<rect x="635.7" y="233.5" width="16.1" height="28.3"/>
<rect x="639.4" y="237.5" width="8.2" height="8"/>
<circle cx="643.6" cy="253.8" r="3.8"/>
<rect x="342.8" y="205.4" width="16.9" height="39.6"/>
<rect x="347.5" y="209.5" width="8" height="7.7"/>
<circle cx="351.5" cy="225.5" r="4"/>
<circle cx="351.5" cy="237.5" r="4"/>
<circle cx="682.4" cy="164.7" r="3.9"/>
<circle cx="703.3" cy="164.7" r="3.9"/>
<path d="M693.5 140.4 L693.5 151"/>
<path d="M678.8 151 L707 151"/>
</g>
<g id="t">
<path d="M339.39 27.67 343.77 27.67 346.51 30.29 346.51 34.23 343.77 36.85 339.39 36.85 336.65 34.23 336.65 30.29 339.39 27.67 M353.15 27.67 353.15 34.23 355.62 36.85 358.9 36.85 361.37 34.23 M361.37 27.67 361.37 36.85 M370.07 23.15 370.07 35.01 371.99 36.85 375.55 36.85 M366.65 27.67 373.5 27.67 M381.5 27.67 381.5 39.32 M381.5 30.29 383.97 27.67 387.53 27.67 389.99 30.29 389.99 34.23 387.53 36.85 383.97 36.85 381.5 34.23 M397.25 27.67 397.25 34.23 399.72 36.85 403 36.85 405.47 34.23 M405.47 27.67 405.47 36.85 M413.88 23.15 413.88 35.01 415.79 36.85 419.35 36.85 M410.45 27.67 417.3 27.67"/>
<path d="M336.05 56.75 341.53 45.15 347.01 56.75 M337.77 53.15 345.29 53.15 M367.15 45.15 367.15 56.75 375.76 56.75 378.11 55.01 378.11 52.69 375.76 50.95 367.15 50.95 M367.15 45.15 374.98 45.15 377.33 46.89 377.33 49.21 374.98 50.95 M406.61 46.89 404.26 45.15 398 45.15 395.65 46.89 395.65 55.01 398 56.75 404.26 56.75 406.61 55.01 M424.85 45.15 424.85 56.75 431.9 56.75 435.81 53.85 435.81 48.05 431.9 45.15 424.85 45.15"/>
<path d="M637.55 71.27 637.55 79.65 M637.55 73.07 639.17 71.27 640.92 71.27 642.55 73.07 642.55 79.65 M642.55 73.07 644.17 71.27 645.92 71.27 647.55 73.07 647.55 79.65 M653.9 71.27 657.9 71.27 660.4 73.67 660.4 77.26 657.9 79.65 653.9 79.65 651.4 77.26 651.4 73.67 653.9 71.27 M669.88 67.15 669.88 77.97 671.62 79.65 674.88 79.65 M666.75 71.27 673 71.27 M683.55 71.27 687.55 71.27 690.05 73.67 690.05 77.26 687.55 79.65 683.55 79.65 681.05 77.26 681.05 73.67 683.55 71.27 M697.25 71.27 697.25 79.65 M697.25 74.27 700.12 71.51 704.25 71.27 M710.65 81.9 720.02 64.27"/>
<path d="M639.2 93.97 639.2 102.35 M639.2 96.97 642.07 94.21 646.2 93.97 M651.55 98.16 660.92 98.16 660.92 96.37 658.42 93.97 654.05 93.97 651.55 96.37 651.55 99.96 654.05 102.35 658.42 102.35 660.92 100.91 M671.15 89.85 671.15 102.35 M690.02 93.97 690.02 102.35 M690.02 96.37 687.52 93.97 683.15 93.97 680.65 96.37 680.65 99.96 683.15 102.35 687.52 102.35 690.02 99.96 M694.65 93.97 699.52 102.11 M704.02 93.97 695.9 105.97"/>
<path d="M24.9 191.98 23.48 190.65 17.78 190.65 15.65 192.64 15.65 201.95 17.78 203.95 23.48 203.95 25.61 201.95 25.61 199.29 23.48 197.3 17.78 197.3 15.65 199.29 M29.9 197.96 37.88 197.96 M47.55 193.58 51.01 190.65 51.01 203.95 M69.09 190.65 60.63 190.65 60.25 196.63 67.2 196.63 69.09 198.63 69.09 201.95 67.2 203.95 62.15 203.95 60.25 201.95 M73.65 190.65 79.7 203.95 85.75 190.65"/>
<path d="M111.89 196.27 110.43 194.74 104.71 194.74 103.25 196.27 103.25 197.92 104.71 199.19 110.43 199.19 111.89 200.47 111.89 202.12 110.43 203.65 104.71 203.65 103.25 202.12 M119.4 194.74 119.4 201.1 121.79 203.65 124.99 203.65 127.38 201.1 M127.38 194.74 127.38 203.65 M133 194.74 133 206.04 M133 197.28 135.39 194.74 138.85 194.74 141.25 197.28 141.25 201.1 138.85 203.65 135.39 203.65 133 201.1 M148 194.74 148 206.04 M148 197.28 150.39 194.74 153.85 194.74 156.25 197.28 156.25 201.1 153.85 203.65 150.39 203.65 148 201.1 M166.3 190.35 166.3 203.65 M175.65 194.74 180.84 203.4 M185.62 194.74 176.98 207.51"/>
<path d="M239.05 210.28 239.05 218.65 M239.05 212.07 240.68 210.28 242.43 210.28 244.05 212.07 244.05 218.65 M244.05 212.07 245.68 210.28 247.43 210.28 249.05 212.07 249.05 218.65 M262.93 210.28 262.93 218.65 M262.93 212.67 260.43 210.28 256.05 210.28 253.55 212.67 253.55 216.26 256.05 218.65 260.43 218.65 262.93 216.26 M276.77 211.71 275.4 210.28 270.02 210.28 268.65 211.71 268.65 213.27 270.02 214.46 275.4 214.46 276.77 215.66 276.77 217.21 275.4 218.65 270.02 218.65 268.65 217.21 M285.57 206.15 285.57 216.97 287.32 218.65 290.57 218.65 M282.45 210.28 288.7 210.28 M298.25 214.46 307.62 214.46 307.62 212.67 305.12 210.28 300.75 210.28 298.25 212.67 298.25 216.26 300.75 218.65 305.12 218.65 307.62 217.21 M314.05 210.28 314.05 218.65 M314.05 213.27 316.92 210.51 321.05 210.28 M329.15 220.9 338.52 203.28"/>
<path d="M247.78 233.01 246.4 231.57 241.03 231.57 239.65 233.01 239.65 234.57 241.03 235.76 246.4 235.76 247.78 236.96 247.78 238.51 246.4 239.95 241.03 239.95 239.65 238.51 M259 227.45 259 239.95 M278.72 231.57 278.72 239.95 M278.72 233.97 276.22 231.57 271.85 231.57 269.35 233.97 269.35 237.56 271.85 239.95 276.22 239.95 278.72 237.56 M283.65 231.57 287.9 239.95 292.15 231.57 M298.25 235.76 307.62 235.76 307.62 233.97 305.12 231.57 300.75 231.57 298.25 233.97 298.25 237.56 300.75 239.95 305.12 239.95 307.62 238.51"/>
<path d="M667.68 222.15 667.68 233.67 669.54 235.45 673 235.45 M664.35 226.54 671 226.54 M681.5 226.54 681.5 235.45 M681.5 229.72 684.56 226.79 688.95 226.54 M698.2 226.54 698.2 235.45 M717.43 226.54 717.43 237.18 715.83 238.77 711.44 238.77 M717.43 229.08 715.03 226.54 711.44 226.54 709.05 229.08 709.05 232.27 711.44 234.81 715.03 234.81 717.43 232.27 M740.31 226.54 744.57 226.54 747.23 229.08 747.23 232.9 744.57 235.45 740.31 235.45 737.65 232.9 737.65 229.08 740.31 226.54 M753.15 226.54 753.15 232.9 755.54 235.45 758.74 235.45 761.13 232.9 M761.13 226.54 761.13 235.45 M772.73 222.15 772.73 233.67 774.59 235.45 778.04 235.45 M769.4 226.54 776.05 226.54"/>
<path d="M670.18 258.95 670.18 270.47 672.04 272.25 675.5 272.25 M666.85 263.34 673.5 263.34 M682 263.34 682 272.25 M682 266.52 685.06 263.59 689.45 263.34 M700.6 263.34 700.6 272.25 M717.83 263.34 717.83 273.98 716.23 275.57 711.84 275.57 M717.83 265.88 715.43 263.34 711.84 263.34 709.45 265.88 709.45 269.07 711.84 271.61 715.43 271.61 717.83 269.07 M742.5 263.34 742.5 272.25 M754.85 263.34 754.85 272.25 M754.85 265.25 756.58 263.34 760.44 263.34 762.17 265.25 762.17 272.25"/>
<path d="M190.67 16.25 185.94 16.25 185.73 20.03 189.61 20.03 190.67 21.29 190.67 23.39 189.61 24.65 186.79 24.65 185.73 23.39 M201.33 16.25 203.8 24.65 206.27 16.25 M210.47 19.02 212.73 19.02 214.14 20.63 214.14 23.04 212.73 24.65 210.47 24.65 209.06 23.04 209.06 20.63 210.47 19.02 M219.4 16.25 219.4 24.65 M226.67 16.25 226.67 23.52 227.66 24.65 229.49 24.65 M224.91 19.02 228.43 19.02 M240.33 24.65 240.33 16.25 244.21 16.25 245.27 17.51 245.27 19.61 244.21 20.87 240.33 20.87 M242.8 20.87 245.27 24.65 M247.95 21.84 253.25 21.84 253.25 20.63 251.83 19.02 249.37 19.02 247.95 20.63 247.95 23.04 249.37 24.65 251.83 24.65 253.25 23.69 M260.62 19.02 260.62 25.74 259.78 26.75 257.45 26.75 M260.62 20.63 259.35 19.02 257.45 19.02 256.18 20.63 256.18 22.64 257.45 24.25 259.35 24.25 260.62 22.64"/>
<path d="M207 36.85 207 45.05 M212.39 45.05 212.39 36.85 217.21 45.05 217.21 36.85"/>
<path d="M238.04 36.85 240.66 36.85 241.76 38.16 241.76 43.74 240.66 45.05 238.04 45.05 236.94 43.74 236.94 38.16 238.04 36.85 M244.64 36.85 244.64 43.82 245.67 45.05 248.43 45.05 249.46 43.82 249.46 36.85 M252.34 36.85 257.16 36.85 M254.75 36.85 254.75 45.05"/>
<path d="M226.46 65.88 225.43 64.65 222.67 64.65 221.64 65.88 221.64 71.62 222.67 72.85 225.43 72.85 226.46 71.62 M230.54 64.65 233.16 64.65 234.26 65.96 234.26 71.54 233.16 72.85 230.54 72.85 229.44 71.54 229.44 65.96 230.54 64.65 M237.24 72.85 237.24 64.65 239.65 70.39 242.06 64.65 242.06 72.85"/>
<path d="M196.32 32.47 197.34 31.25 200.06 31.25 201.08 32.47 201.08 34.09 200.06 35.3 198.02 35.3 M200.06 35.3 201.08 36.52 201.08 38.14 200.06 39.35 197.34 39.35 196.32 38.14"/>
<path d="M264.06 34.12 265.52 32.65 265.52 39.35"/>
<g transform="translate(232.6 85.2) rotate(-90)"><path d="M0.65 -8.04 1.86 -9.35 5.1 -9.35 6.31 -8.04 6.31 -6.3 0.65 -0.65 6.31 -0.65"/></g>
<path d="M359.34 63.85 359.34 70.39 358.37 71.55 356.43 71.55 355.46 70.39 M367.94 64.62 367.29 63.85 364.71 63.85 363.74 65 363.74 70.39 364.71 71.55 367.29 71.55 368.26 70.39 368.26 68.85 367.29 67.7 364.71 67.7 363.74 68.85"/>
<path d="M450 78 450 70 453.69 70 454.7 71.2 454.7 73.2 453.69 74.4 450 74.4 M460.31 70 460.31 78 M470.62 71.2 469.61 70 466.93 70 465.92 71.2 465.92 76.8 466.93 78 469.61 78 470.62 76.8 M475.22 71.76 476.97 70 476.97 78 M486.21 70.8 485.53 70 482.85 70 481.84 71.2 481.84 76.8 482.85 78 485.53 78 486.54 76.8 486.54 75.2 485.53 74 482.85 74 481.84 75.2 M494.5 70 489.8 70 489.8 78 M489.8 74 493.16 74 M502.13 70.8 501.45 70 498.77 70 497.76 71.2 497.76 76.8 498.77 78 501.45 78 502.46 76.8 502.46 75.2 501.45 74 498.77 74 497.76 75.2 M505.72 71.2 506.73 70 509.41 70 510.42 71.2 510.42 72.8 509.41 74 507.4 74 M509.41 74 510.42 75.2 510.42 76.8 509.41 78 506.73 78 505.72 76.8 M515.36 70 516.7 70 517.71 71.2 517.71 76.8 516.7 78 515.36 78 514.35 76.8 514.35 71.2 515.36 70"/>
<path d="M458.09 111.55 458.09 103.35 461.88 103.35 462.91 104.58 462.91 106.63 461.88 107.86 458.09 107.86 M467.07 105.15 468.86 103.35 468.86 111.55"/>
<path d="M458.09 123.35 458.09 115.15 461.88 115.15 462.91 116.38 462.91 118.43 461.88 119.66 458.09 119.66 M465.69 116.38 466.72 115.15 469.48 115.15 470.51 116.38 470.51 118.02 465.69 123.35 470.51 123.35"/>
<path d="M458.09 135.35 458.09 127.15 461.88 127.15 462.91 128.38 462.91 130.43 461.88 131.66 458.09 131.66 M465.69 128.38 466.72 127.15 469.48 127.15 470.51 128.38 470.51 130.02 469.48 131.25 467.41 131.25 M469.48 131.25 470.51 132.48 470.51 134.12 469.48 135.35 466.72 135.35 465.69 134.12"/>
<path d="M458.09 148.25 458.09 140.05 461.88 140.05 462.91 141.28 462.91 143.33 461.88 144.56 458.09 144.56 M469.48 148.25 469.48 140.05 465.69 145.79 470.51 145.79"/>
<path d="M458.09 159.85 458.09 151.65 461.88 151.65 462.91 152.88 462.91 154.93 461.88 156.16 458.09 156.16 M470.51 151.65 465.9 151.65 465.69 155.34 469.48 155.34 470.51 156.57 470.51 158.62 469.48 159.85 466.72 159.85 465.69 158.62"/>
<path d="M458.09 171.95 458.09 163.75 461.88 163.75 462.91 164.98 462.91 167.03 461.88 168.26 458.09 168.26 M470.17 164.57 469.48 163.75 466.72 163.75 465.69 164.98 465.69 170.72 466.72 171.95 469.48 171.95 470.51 170.72 470.51 169.08 469.48 167.85 466.72 167.85 465.69 169.08"/>
<path d="M458.09 183.55 458.09 175.35 461.88 175.35 462.91 176.58 462.91 178.63 461.88 179.86 458.09 179.86 M465.69 175.35 470.51 175.35 467.41 183.55"/>
<path d="M503.39 111.55 503.39 103.35 507.18 103.35 508.21 104.58 508.21 106.63 507.18 107.86 503.39 107.86 M512.37 105.15 514.16 103.35 514.16 111.55 M522.38 111.55 522.38 103.35 518.59 109.09 523.41 109.09"/>
<path d="M503.39 123.35 503.39 115.15 507.18 115.15 508.21 116.38 508.21 118.43 507.18 119.66 503.39 119.66 M512.37 116.95 514.16 115.15 514.16 123.35 M518.59 116.38 519.62 115.15 522.38 115.15 523.41 116.38 523.41 118.02 522.38 119.25 520.31 119.25 M522.38 119.25 523.41 120.48 523.41 122.12 522.38 123.35 519.62 123.35 518.59 122.12"/>
<path d="M503.39 135.35 503.39 127.15 507.18 127.15 508.21 128.38 508.21 130.43 507.18 131.66 503.39 131.66 M512.37 128.95 514.16 127.15 514.16 135.35 M518.59 128.38 519.62 127.15 522.38 127.15 523.41 128.38 523.41 130.02 518.59 135.35 523.41 135.35"/>
<path d="M503.39 148.25 503.39 140.05 507.18 140.05 508.21 141.28 508.21 143.33 507.18 144.56 503.39 144.56 M512.37 141.85 514.16 140.05 514.16 148.25 M519.97 141.85 521.76 140.05 521.76 148.25"/>
<path d="M503.39 159.85 503.39 151.65 507.18 151.65 508.21 152.88 508.21 154.93 507.18 156.16 503.39 156.16 M512.37 153.45 514.16 151.65 514.16 159.85 M520.31 151.65 521.69 151.65 522.72 152.88 522.72 158.62 521.69 159.85 520.31 159.85 519.28 158.62 519.28 152.88 520.31 151.65"/>
<path d="M510.99 171.95 510.99 163.75 514.78 163.75 515.81 164.98 515.81 167.03 514.78 168.26 510.99 168.26 M518.59 170.72 519.62 171.95 522.38 171.95 523.41 170.72 523.41 164.98 522.38 163.75 519.62 163.75 518.59 164.98 518.59 166.62 519.62 167.85 522.38 167.85 523.41 166.62"/>
<path d="M510.99 183.55 510.99 175.35 514.78 175.35 515.81 176.58 515.81 178.63 514.78 179.86 510.99 179.86 M519.62 179.45 518.59 178.22 518.59 176.58 519.62 175.35 522.38 175.35 523.41 176.58 523.41 178.22 522.38 179.45 519.62 179.45 518.59 180.68 518.59 182.32 519.62 183.55 522.38 183.55 523.41 182.32 523.41 180.68 522.38 179.45"/>
<path d="M610.19 74.25 610.19 80.62 609.25 81.75 607.36 81.75 606.41 80.62 M616.96 81.75 616.96 74.25 613.49 79.5 617.9 79.5"/>
<path d="M689.25 128.2 688.11 126.85 685.09 126.85 683.95 128.2 683.95 130 685.09 131.35 688.11 131.35 689.25 132.7 689.25 134.5 688.11 135.85 685.09 135.85 683.95 134.5 M692.67 128.83 694.63 126.85 694.63 135.85"/>
<path d="M57.57 123.85 57.57 130.82 56.53 132.05 54.47 132.05 53.43 130.82 M62.07 125.65 63.86 123.85 63.86 132.05"/>
<path d="M68.24 137.35 69.34 136.05 72.26 136.05 73.36 137.35 73.36 139.09 68.24 144.75 73.36 144.75"/>
<path d="M69.34 150.59 70.48 149.45 70.48 154.65"/>
<path d="M162.26 134.34 161.62 133.05 159.9 133.05 159.25 134.34 159.25 140.36 159.9 141.65 161.62 141.65 162.26 140.36"/>
<path d="M166.95 134.94 168.96 133.05 168.96 141.65"/>
<path d="M156.2 147.05 157.73 147.05 158.88 148.32 158.88 154.27 157.73 155.55 156.2 155.55 155.05 154.27 155.05 148.32 156.2 147.05  M170.05 148.32 170.99 147.05 173.51 147.05 174.45 148.32 174.45 150.02 173.51 151.3 171.62 151.3 M173.51 151.3 174.45 152.57 174.45 154.27 173.51 155.55 170.99 155.55 170.05 154.27 M177.25 148.32 178.19 147.05 180.71 147.05 181.65 148.32 181.65 150.02 180.71 151.3 178.82 151.3 M180.71 151.3 181.65 152.57 181.65 154.27 180.71 155.55 178.19 155.55 177.25 154.27 M185.15 149.85 185.15 153.92 186.1 155.55 187.36 155.55 188.31 153.92 M188.31 149.85 188.31 155.55 M195.05 147.05 190.65 147.05 190.65 155.55 M190.65 151.3 193.8 151.3"/>
<path d="M246.39 131.48 245.59 130.15 243.45 130.15 242.65 131.48 242.65 137.71 243.45 139.05 245.59 139.05 246.39 137.71 M248.95 131.48 250.04 130.15 252.96 130.15 254.06 131.48 254.06 133.26 248.95 139.05 254.06 139.05"/>
<path d="M235.15 145.65 236.22 145.65 237.02 146.98 237.02 153.21 236.22 154.55 235.15 154.55 234.35 153.21 234.35 146.98 235.15 145.65  M249.25 147.61 251.33 145.65 251.33 154.55 M256.95 148.59 256.95 152.85 257.96 154.55 259.3 154.55 260.31 152.85 M260.31 148.59 260.31 154.55 M267.65 145.65 262.35 145.65 262.35 154.55 M262.35 150.1 266.13 150.1"/>
<path d="M347.14 193.95 347.14 200.5 346.17 201.65 344.23 201.65 343.26 200.5 M355.06 193.95 350.73 193.95 350.54 197.41 354.09 197.41 355.06 198.57 355.06 200.5 354.09 201.65 351.51 201.65 350.54 200.5"/>
<path d="M639.61 221.65 639.61 227.77 638.71 228.85 636.89 228.85 635.99 227.77 M642.88 222.73 643.79 221.65 646.21 221.65 647.12 222.73 647.12 224.17 642.88 228.85 647.12 228.85"/>
<path d="M442.65 330.75 442.65 338.95 445.42 338.95 446.95 336.9 446.95 332.8 445.42 330.75 442.65 330.75 M449.45 331.98 450.37 330.75 452.83 330.75 453.75 331.98 453.75 333.62 449.45 338.95 453.75 338.95"/>
<path d="M496.75 330.75 496.75 338.95 499.51 338.95 501.05 336.9 501.05 332.8 499.51 330.75 496.75 330.75 M504.78 332.55 506.38 330.75 506.38 338.95"/>
<path d="M438.04 363.85 438.04 372.15 442.36 372.15 M449.52 363.85 444.88 363.85 444.88 372.15 449.52 372.15 M444.88 368 448.2 368 M451.88 363.85 451.88 372.15 454.86 372.15 456.52 370.08 456.52 365.93 454.86 363.85 451.88 363.85 M458.88 365.1 459.87 363.85 462.53 363.85 463.52 365.1 463.52 366.76 458.88 372.15 463.52 372.15"/>
<path d="M487.35 368.15 487.35 376.05 491.45 376.05 M500.01 368.15 495.59 368.15 495.59 376.05 500.01 376.05 M495.59 372.1 498.75 372.1 M503.99 368.15 503.99 376.05 506.83 376.05 508.41 374.07 508.41 370.12 506.83 368.15 503.99 368.15 M513.65 369.89 515.3 368.15 515.3 376.05"/>
<g transform="translate(415.2 310.6) rotate(-90)"><path d="M5.7 -9.15 0.92 -9.15 0.7 -5.33 4.63 -5.33 5.7 -4.05 5.7 -1.92 4.63 -0.65 1.77 -0.65 0.7 -1.92 M13.34 -8.3 12.63 -9.15 9.77 -9.15 8.7 -7.88 8.7 -1.92 9.77 -0.65 12.63 -0.65 13.7 -1.92 13.7 -3.62 12.63 -4.9 9.77 -4.9 8.7 -3.62 M18.49 -9.15 19.91 -9.15 20.98 -7.88 20.98 -1.92 19.91 -0.65 18.49 -0.65 17.41 -1.92 17.41 -7.88 18.49 -9.15"/></g>
<g transform="translate(469.2 310.6) rotate(-90)"><path d="M5.7 -9.15 0.92 -9.15 0.7 -5.33 4.63 -5.33 5.7 -4.05 5.7 -1.92 4.63 -0.65 1.77 -0.65 0.7 -1.92 M13.34 -8.3 12.63 -9.15 9.77 -9.15 8.7 -7.88 8.7 -1.92 9.77 -0.65 12.63 -0.65 13.7 -1.92 13.7 -3.62 12.63 -4.9 9.77 -4.9 8.7 -3.62 M18.49 -9.15 19.91 -9.15 20.98 -7.88 20.98 -1.92 19.91 -0.65 18.49 -0.65 17.41 -1.92 17.41 -7.88 18.49 -9.15"/></g>
<g transform="translate(556.4 311.7) rotate(-90)"><path d="M4.54 -0.65 4.54 -8.65 0.85 -3.05 5.55 -3.05 M9.18 -8.65 9.18 -0.65 M13.22 -6.01 9.18 -2.56 M10.66 -3.71 13.22 -0.65 M16.85 -8.65 21.55 -8.65 18.53 -0.65"/></g>
<g transform="translate(604.4 328) rotate(-90)"><path d="M4.54 -0.65 4.54 -8.65 0.85 -3.05 5.55 -3.05 M9.18 -8.65 9.18 -0.65 M13.22 -6.01 9.18 -2.56 M10.66 -3.71 13.22 -0.65 M16.85 -8.65 21.55 -8.65 18.53 -0.65"/></g>
<circle cx="698.20" cy="222.02" r="1.05" class="td"/>
<circle cx="700.60" cy="258.82" r="1.05" class="td"/>
<circle cx="742.50" cy="258.82" r="1.05" class="td"/>
<circle cx="164.25" cy="155.21" r="1.05" class="td"/>
<circle cx="244.55" cy="154.19" r="1.05" class="td"/>
</g>
</svg>
</body></html>
